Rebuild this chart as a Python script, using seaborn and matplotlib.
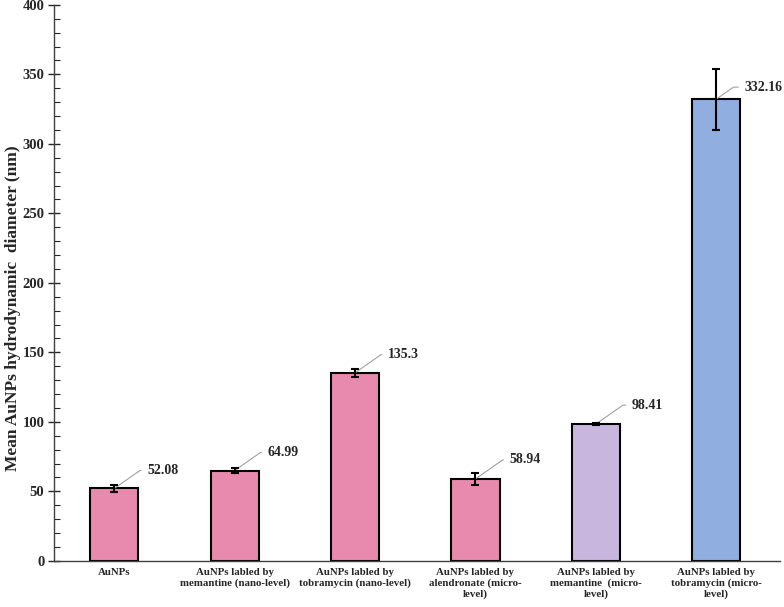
import matplotlib
matplotlib.use('Agg')
import matplotlib.pyplot as plt
import seaborn as sns
import pandas as pd
from matplotlib.ticker import MultipleLocator

# values
categories = [
    'AuNPs',
    'AuNPs labled by\nmemantine (nano-level)',
    'AuNPs labled by\ntobramycin (nano-level)',
    'AuNPs labled by\nalendronate (micro-\nlevel)',
    'AuNPs labled by\nmemantine  (micro-\nlevel)',
    'AuNPs labled by\ntobramycin (micro-\nlevel)',
]
diameters = [52.08, 64.99, 135.3, 58.94, 98.41, 332.16]
errors = [2.5, 1.5, 3.0, 4.5, 0.6, 22.0]
value_labels = ['52.08', '64.99', '135.3', '58.94', '98.41', '332.16']
bar_colors = ['#E88AAD', '#E88AAD', '#E88AAD', '#E88AAD', '#C8B6DF', '#90AEE0']
label_offsets = [(33, 18), (33, 18), (33, 18), (34, 19), (36, 19), (28, 12)]

sns.set_style('ticks')
plt.rcParams['font.family'] = ['Liberation Serif', 'DejaVu Serif']
plt.rcParams['font.weight'] = 'bold'

df = pd.DataFrame({'sample': categories, 'diameter': diameters})

fig = plt.figure(figsize=(7.84, 6.07), dpi=100)
ax = fig.add_axes([0.069, 0.076, 0.926, 0.916])

sns.barplot(data=df, x='sample', y='diameter', hue='sample', palette=bar_colors,
            legend=False, width=0.4, edgecolor='black', linewidth=1.5,
            saturation=1, ax=ax)

ax.errorbar(range(len(categories)), diameters, yerr=errors, fmt='none',
            ecolor='black', elinewidth=1.5, capsize=3, capthick=1.5, zorder=5)

for i, (v, txt) in enumerate(zip(diameters, value_labels)):
    dx, dy = label_offsets[i]
    ax.annotate(txt, xy=(i, v), xytext=(dx, dy), textcoords='offset pixels',
                fontsize=10, fontweight='bold', va='center', ha='left',
                arrowprops=dict(arrowstyle='-', color='#A0A0A0', lw=0.8,
                                shrinkA=2, shrinkB=0,
                                connectionstyle='angle,angleA=0,angleB=35,rad=0'))

ax.set_ylim(0, 400)
ax.set_xlim(-0.5, len(categories) - 0.47)
ax.yaxis.set_major_locator(MultipleLocator(50))
ax.yaxis.set_minor_locator(MultipleLocator(10))
ax.tick_params(axis='y', which='major', direction='inout', length=8, width=1,
               labelsize=10.5, pad=3)
ax.tick_params(axis='y', which='minor', direction='in', length=4, width=0.8)
ax.tick_params(axis='x', length=0, labelsize=7.8, pad=5)
for lab in ax.get_xticklabels():
    lab.set_fontweight('bold')
    lab.set_linespacing(1.2)
for lab in ax.get_yticklabels():
    lab.set_fontweight('bold')

ax.set_xlabel('')
ax.set_ylabel('Mean AuNPs hydrodynamic  diameter (nm)', fontsize=12.5,
              fontweight='bold')
ax.yaxis.set_label_coords(-0.046, 0.455)

sns.despine(ax=ax)
for s in ['left', 'bottom']:
    ax.spines[s].set_color('#404040')
    ax.spines[s].set_linewidth(1.0)

fig.savefig('out.png', dpi=100)
